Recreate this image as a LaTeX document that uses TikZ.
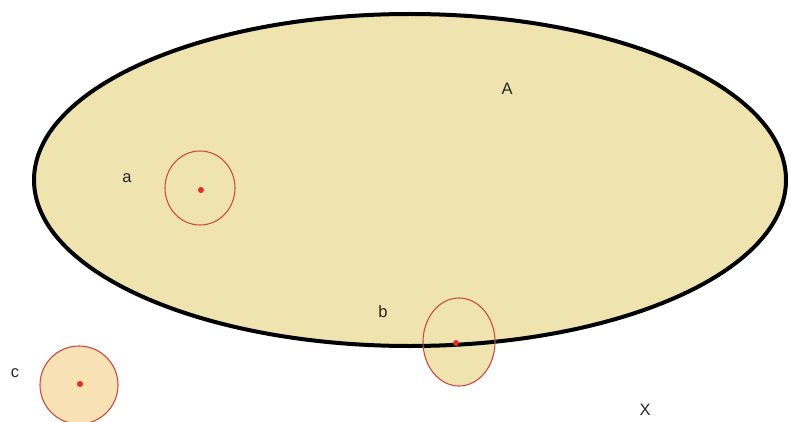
\documentclass[tikz,border=0pt]{standalone}
\usepackage{fontspec}
\setmainfont{Liberation Sans}
\usetikzlibrary{shapes.geometric}
\definecolor{tanfill}{HTML}{EFE4B0}
\definecolor{peach}{HTML}{F9E1B6}
\definecolor{ringred}{HTML}{CC4A40}
\definecolor{dotred}{HTML}{E0301E}
\tikzset{
  lbl/.style={font=\fontsize{16.5}{18}\selectfont, text=black!85, inner sep=0pt},
  ring/.style={draw=ringred, line width=1.1pt},
  pt/.style={fill=dotred, draw=none}
}
\begin{document}
\begin{tikzpicture}[x=1pt,y=-1pt]
\useasboundingbox (0,0) rectangle (791,422);
% set A
\fill[tanfill] (410,180) ellipse [x radius=376, y radius=166];
% fills of subsets
\fill[tanfill] (459,342) ellipse [x radius=36, y radius=44];
\fill[peach] (79,385) circle [radius=39];
% outline of A
\draw[line width=4pt, black] (410,180) ellipse [x radius=376, y radius=166];
% circles
\draw[ring] (200,188) ellipse [x radius=35, y radius=37];
\draw[ring] (459,342) ellipse [x radius=36, y radius=44];
\draw[ring] (79,385) circle [radius=39];
% points
\fill[pt] (201,190) circle [radius=3];
\fill[pt] (456,343) circle [radius=3];
\fill[pt] (80,384) circle [radius=3];
% labels
\node[lbl] (lA) at (507,89) {A};
\node[lbl] (la) at (127,178) {a};
\node[lbl] (lb) at (383,312) {b};
\node[lbl] (lc) at (15,373) {c};
\node[lbl] (lX) at (645,410) {X};
\end{tikzpicture}
\end{document}
